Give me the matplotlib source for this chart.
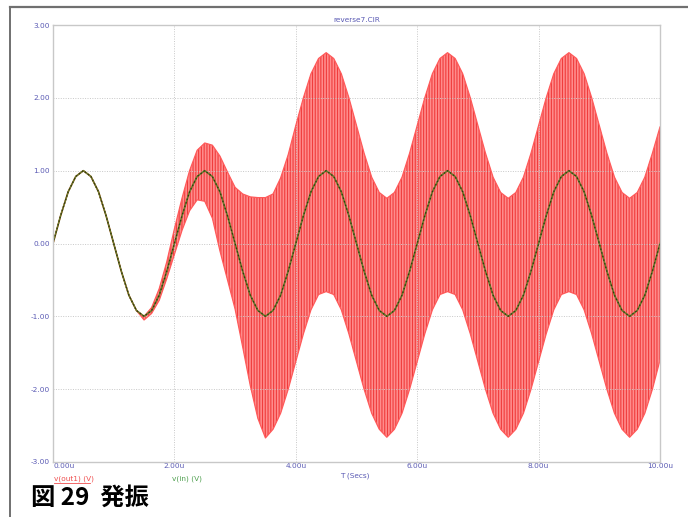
import numpy as np
import matplotlib.pyplot as plt
from matplotlib.lines import Line2D

plt.rcParams['font.family'] = ['DejaVu Sans']
plt.rcParams['hatch.linewidth'] = 0.8
plt.rcParams['hatch.color'] = '#f03c3c'

# 入力正弦波 v(in)：1周期 16 点 (0.125us 刻み)、5周期
vin_cycle = [0.0, 0.38, 0.71, 0.92, 1.0, 0.92, 0.71, 0.38,
             0.0, -0.38, -0.71, -0.92, -1.0, -0.92, -0.71, -0.38]
t_us = np.arange(81) * 0.125
vin = vin_cycle * 5 + [0.0]

# 出力 v(out1) の包絡線
out_upper = (vin[:12] +
             [-1.0, -0.88, -0.62, -0.25, 0.2, 0.62, 1.0, 1.28, 1.38, 1.35, 1.2, 0.98,
              0.77, 0.68, 0.64, 0.63, 0.63, 0.68, 0.9, 1.22] +
             [1.62, 2.0, 2.33, 2.54, 2.62, 2.54, 2.33, 2.0,
              1.62, 1.24, 0.91, 0.7, 0.62, 0.7, 0.91, 1.24] * 3 +
             [1.6])
out_lower = (vin[:12] +
             [-1.05, -0.96, -0.78, -0.48, -0.15, 0.18, 0.45, 0.6, 0.58, 0.35, -0.1, -0.5,
              -0.9, -1.42, -1.95, -2.4, -2.67, -2.55, -2.33, -2.0] +
             [-1.62, -1.24, -0.91, -0.7, -0.66, -0.7, -0.91, -1.24,
              -1.62, -2.0, -2.33, -2.55, -2.66, -2.55, -2.33, -2.0] * 3 +
             [-1.6])

x_ticks = [0, 2, 4, 6, 8, 10]
x_labels = ['0.00u', '2.00u', '4.00u', '6.00u', '8.00u', '10.00u']
y_ticks = [-3, -2, -1, 0, 1, 2, 3]
y_labels = ['-3.00', '-2.00', '-1.00', '0.00', '1.00', '2.00', '3.00']

blue = '#5a5ab4'
fig = plt.figure(figsize=(6.88, 5.17), dpi=100)
ax = fig.add_axes([53 / 688, 55 / 517, 607 / 688, 437 / 517])

# 発振波形
ax.fill_between(t_us, out_lower, out_upper, facecolor='#ff8c8c',
                edgecolor='#f03c3c', hatch='||||||', linewidth=0)
ax.plot(t_us, out_upper, color='#ff5a5a', linewidth=0.9)
ax.plot(t_us, out_lower, color='#ff5a5a', linewidth=0.9)
ax.plot(t_us, vin, color='#6b7a2a', linewidth=1.2)
ax.plot(t_us, vin, color='#2e3a10', linewidth=0.9, linestyle=(0, (1.2, 1.8)))

ax.set_xlim(0, 10)
ax.set_ylim(-3, 3)
ax.set_xticks(x_ticks)
ax.set_xticklabels(x_labels)
ax.set_yticks(y_ticks)
ax.set_yticklabels(y_labels)
ax.tick_params(length=0, labelsize=5.3, labelcolor=blue, pad=2)
ax.tick_params(axis='x', pad=1)
ax.get_xticklabels()[0].set_horizontalalignment('left')
ax.grid(True, color='#c8c8c8', linestyle=(0, (1, 1.5)), linewidth=0.7)
for s in ax.spines.values():
    s.set_color('#c8c8c8')
    s.set_linewidth(1.0)

ax.set_title('reverse7.CIR', fontsize=5.3, color=blue, pad=2)

# 軸ラベル・凡例
fig.text(340 / 688, 1 - 476 / 517, 'T (Secs)', fontsize=5.3, color=blue, va='center')
fig.text(54 / 688, 1 - 479 / 517, 'v(out1) (V)', fontsize=5.3, color='#f05050', va='center')
fig.add_artist(Line2D([54 / 688, 90 / 688], [1 - 483 / 517, 1 - 483 / 517],
                      color='#f05050', linewidth=0.6))
fig.text(172 / 688, 1 - 479 / 517, 'v(in) (V)', fontsize=5.3, color='#50a050', va='center')

# 枠
fig.add_artist(Line2D([10 / 688, 1], [1 - 7 / 517, 1 - 7 / 517], color='#707070', linewidth=1.6))
fig.add_artist(Line2D([10 / 688, 10 / 688], [0, 1 - 7 / 517], color='#707070', linewidth=1.4))

fig.text(31 / 688, 1 - 498 / 517, '図 29  発振', fontsize=17.5, fontweight='bold',
         family=['Noto Sans CJK JP', 'DejaVu Sans'], va='center')

fig.savefig('out.png', dpi=100)
